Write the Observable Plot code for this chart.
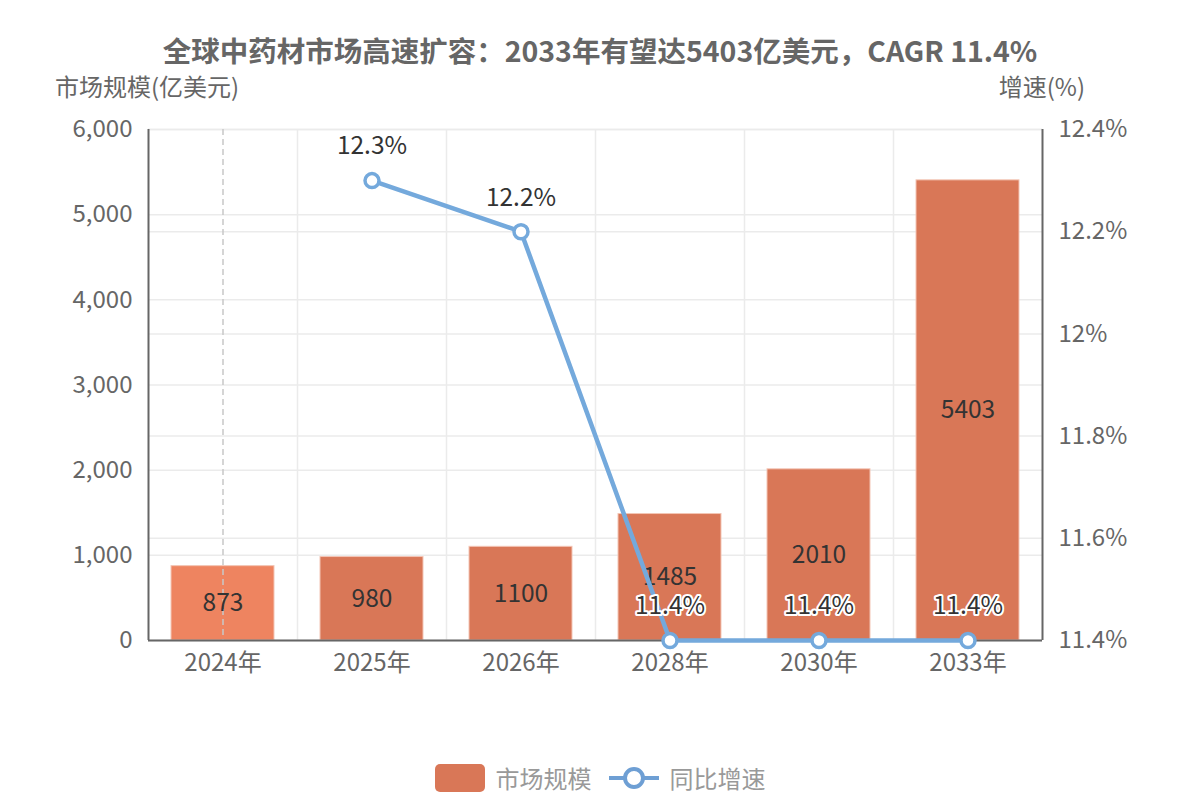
<!DOCTYPE html>
<html>
<head>
<meta charset="utf-8">
<script src="https://cdn.jsdelivr.net/npm/d3@7"></script>
<script src="https://cdn.jsdelivr.net/npm/@observablehq/plot@0.6"></script>
<style>
  html, body { margin: 0; padding: 0; background: #fff; }
  body { font-family: "Noto Sans CJK SC", "Noto Sans", sans-serif; }
  #wrap { position: relative; width: 1200px; height: 800px; overflow: hidden; }
  #chart { position: absolute; left: 0; top: 0; }
  .title { position: absolute; left: 0; width: 1200px; top: 30px; text-align: center;
           font-size: 28.5px; font-weight: bold; color: #666; line-height: 40px; }
  .axlabel { position: absolute; top: 71px; font-size: 24px; color: #666; line-height: 30px; }
  .legend { position: absolute; top: 760px; left: 0; width: 1200px; display: flex;
            justify-content: center; align-items: center; font-size: 24px; color: #999; }
  .legend .item { display: flex; align-items: center; margin: 0 8px; }
  .legend .sw { width: 50px; height: 28px; border-radius: 5px; background: #D97757; margin-right: 11px; }
</style>
</head>
<body>
<div id="wrap">
  <div class="title">全球中药材市场高速扩容：2033年有望达5403亿美元，CAGR 11.4%</div>
  <div class="axlabel" style="left:55px;">市场规模(亿美元)</div>
  <div class="axlabel" style="right:115px;">增速(%)</div>
  <div id="chart"></div>
  <div class="legend">
    <div class="item"><div class="sw"></div><span>市场规模</span></div>
    <div class="item">
      <svg width="52" height="30" style="margin-right:10px">
        <line x1="1" x2="51" y1="15" y2="15" stroke="#6E9FD4" stroke-width="4"/>
        <circle cx="26" cy="15" r="9" fill="#fff" stroke="#6E9FD4" stroke-width="4"/>
      </svg>
      <span>同比增速</span>
    </div>
  </div>
</div>
<script>
// Market size (亿美元) and year-on-year growth (%) by year
const years = ["2024年", "2025年", "2026年", "2028年", "2030年", "2033年"];
const marketSize = [873, 980, 1100, 1485, 2010, 5403];
const growthRate = [null, 12.3, 12.2, 11.4, 11.4, 11.4];
const sizeTicks = [0, 1000, 2000, 3000, 4000, 5000, 6000];
const rateTicks = [11.4, 11.6, 11.8, 12, 12.2, 12.4];

const W = 1200, H = 720;
const mL = 148, mR = 158, mT = 129, mB = 80;
const bw = (W - mL - mR) / years.length;   // band width in px
const barInset = 23;

// growth rate is drawn against the left scale through this mapping
const rateToY = d3.scaleLinear([11.4, 12.4], [0, 6000]);

const rows = years.map((year, i) => ({year, size: marketSize[i], rate: growthRate[i]}));
const rateRows = rows.filter(d => d.rate != null);

const axisColor = "#666";
const gridColor = "#EBEBEB";
const barColor = "#D97757";
const barHighlight = "#EE8460";
const lineColor = "#74A9DC";

const fmtRate = (v) => `${+v.toFixed(1)}%`;

const plot = Plot.plot({
  width: W,
  height: H,
  marginLeft: mL,
  marginRight: mR,
  marginTop: mT,
  marginBottom: mB,
  style: {fontFamily: "'Noto Sans CJK SC', 'Noto Sans', sans-serif", background: "transparent"},
  x: {type: "band", domain: years, padding: 0, axis: null},
  y: {domain: [0, 6000], axis: null},
  marks: [
    // horizontal grid for both scales
    Plot.ruleY(sizeTicks, {stroke: gridColor, strokeWidth: 1.5}),
    Plot.ruleY(rateTicks.map(t => rateToY(t)), {stroke: gridColor, strokeWidth: 1.5}),
    // vertical grid at category boundaries
    Plot.ruleX(years.slice(1), {dx: -bw / 2, stroke: gridColor, strokeWidth: 1.5}),
    // bars
    Plot.barY(rows, {
      x: "year", y: "size",
      fill: (d, i) => (i === 0 ? barHighlight : barColor),
      stroke: "#F3C5B5", strokeWidth: 1,
      insetLeft: barInset, insetRight: barInset
    }),
    // axis pointer on the first category
    Plot.ruleX([years[0]], {stroke: "#C8C8C8", strokeWidth: 1.5, strokeDasharray: "6,4"}),
    // axis lines
    Plot.ruleX([years[0]], {dx: -bw / 2, stroke: axisColor, strokeWidth: 2}),
    Plot.ruleX([years[years.length - 1]], {dx: bw / 2, stroke: axisColor, strokeWidth: 2}),
    Plot.ruleY([0], {stroke: axisColor, strokeWidth: 2}),
    // axes
    Plot.axisY({
      ticks: sizeTicks, tickSize: 0, tickPadding: 16, anchor: "left",
      tickFormat: d3.format(","), fontSize: 24, fill: axisColor, label: null
    }),
    Plot.axisY({
      ticks: rateTicks.map(t => rateToY(t)), tickSize: 0, tickPadding: 16, anchor: "right",
      tickFormat: (v) => fmtRate(rateToY.invert(v)), fontSize: 24, fill: axisColor, label: null
    }),
    Plot.axisX({tickSize: 0, tickPadding: 13, fontSize: 24, fill: axisColor, label: null}),
    // bar value labels
    Plot.text(rows, {
      x: "year", y: d => d.size / 2, text: d => String(d.size),
      fontSize: 24.5, fill: "#333"
    }),
    // growth line
    Plot.line(rateRows, {x: "year", y: d => rateToY(d.rate), stroke: lineColor, strokeWidth: 4.5}),
    Plot.dot(rateRows, {x: "year", y: d => rateToY(d.rate), r: 7, fill: "#fff", stroke: lineColor, strokeWidth: 3.5}),
    Plot.text(rateRows, {
      x: "year", y: d => rateToY(d.rate), text: d => fmtRate(d.rate), dy: -34,
      fontSize: 24.5, fill: "#333", stroke: "#fff", strokeWidth: 4
    })
  ]
});

document.getElementById("chart").appendChild(plot);
</script>
</body>
</html>
